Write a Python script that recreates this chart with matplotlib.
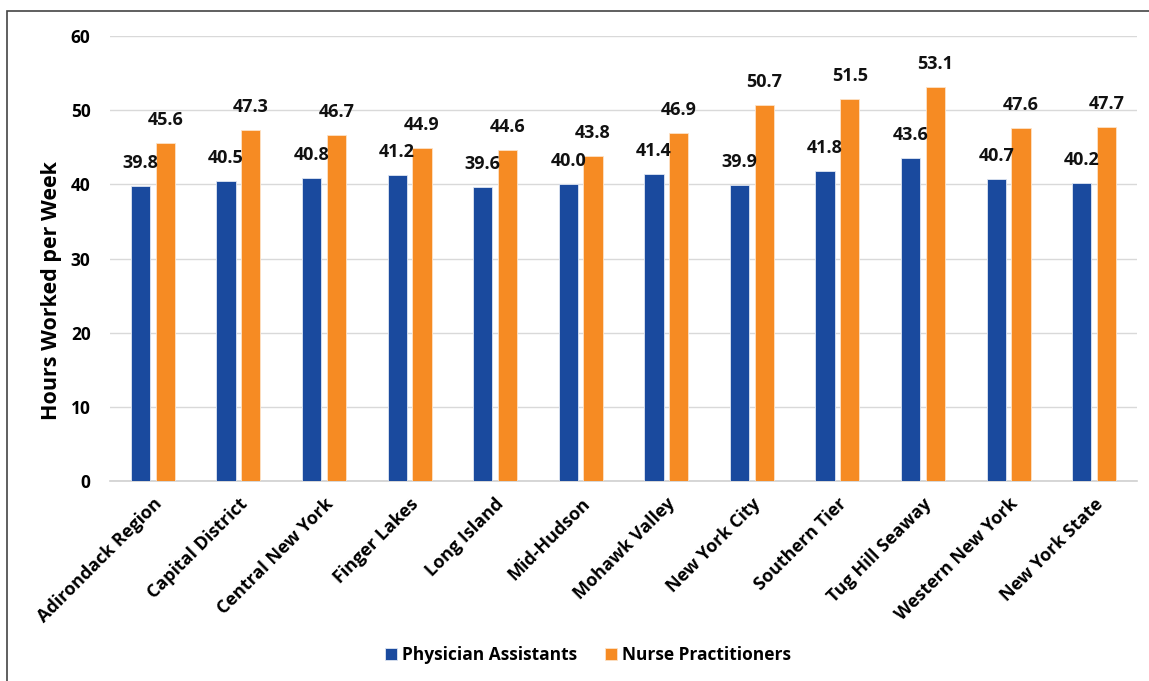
import matplotlib
matplotlib.use("Agg")
import matplotlib.pyplot as plt
from matplotlib.patches import Rectangle
import numpy as np

categories = ["Adirondack Region", "Capital District", "Central New York", "Finger Lakes",
              "Long Island", "Mid-Hudson", "Mohawk Valley", "New York City", "Southern Tier",
              "Tug Hill Seaway", "Western New York", "New York State"]
pa_values = [39.8, 40.5, 40.8, 41.2, 39.6, 40.0, 41.4, 39.9, 41.8, 43.6, 40.7, 40.2]
np_values = [45.6, 47.3, 46.7, 44.9, 44.6, 43.8, 46.9, 50.7, 51.5, 53.1, 47.6, 47.7]
series_names = ["Physician Assistants", "Nurse Practitioners"]
yticks = [0, 10, 20, 30, 40, 50, 60]

plt.rcParams['font.family'] = ['Open Sans', 'DejaVu Sans']
plt.rcParams['font.weight'] = 'bold'

fig = plt.figure(figsize=(11.49, 6.81), dpi=100)
ax = fig.add_axes([110/1149, 1-481/681, (1137-110)/1149, (481-36)/681])

blue = "#1a4a9e"
orange = "#f68b23"
x = np.arange(len(categories))
w = 0.225
off = 0.145
b1 = ax.bar(x - off, pa_values, w, color=blue, edgecolor="#dfe6f2", linewidth=0.6,
            label=series_names[0], zorder=3)
b2 = ax.bar(x + off, np_values, w, color=orange, edgecolor="#fde3c8", linewidth=0.6,
            label=series_names[1], zorder=3)

for rect, v in zip(b1, pa_values):
    ax.text(rect.get_x() + rect.get_width()/2, v + 1.9, f"{v:.1f}", ha="center", va="bottom",
            fontsize=13, fontweight="bold", color="#111111")
for rect, v in zip(b2, np_values):
    ax.text(rect.get_x() + rect.get_width()/2, v + 1.9, f"{v:.1f}", ha="center", va="bottom",
            fontsize=13, fontweight="bold", color="#111111")

ax.set_xlim(-0.5, len(categories) - 0.5)
ax.set_ylim(0, 60)
ax.set_yticks(yticks)
ax.set_yticklabels([str(t) for t in yticks], fontsize=12.5, fontweight="bold")
ax.set_xticks(x)
ax.set_xticklabels(categories, rotation=45, ha="right", rotation_mode="anchor",
                   fontsize=13, fontweight="bold")
ax.tick_params(axis="x", length=0, pad=10)
ax.tick_params(axis="y", length=0, pad=14)
ax.grid(axis="y", color="#d9d9d9", linewidth=1, zorder=0)
for s in ["top", "right", "left"]:
    ax.spines[s].set_visible(False)
ax.spines["bottom"].set_color("#d0d0d0")
ax.spines["bottom"].set_linewidth(1.2)
ax.set_ylabel("Hours Worked per Week", fontsize=15.5, fontweight="bold")
ax.yaxis.set_label_coords(-0.047, 0.427)

fig.legend(handles=[b1, b2], labels=series_names, loc="center", bbox_to_anchor=(588/1149, 1-655/681),
           ncol=2, frameon=False, handlelength=0.7, handleheight=0.7,
           handletextpad=0.3, columnspacing=1.6, prop={"weight": "bold", "size": 12.5})

fig.patches.append(Rectangle((7/1149, -0.05), 1.1, 1 - 11/681 + 0.05, transform=fig.transFigure,
                             fill=False, edgecolor="#444444", linewidth=1.2))

fig.savefig("out.png", dpi=100)
